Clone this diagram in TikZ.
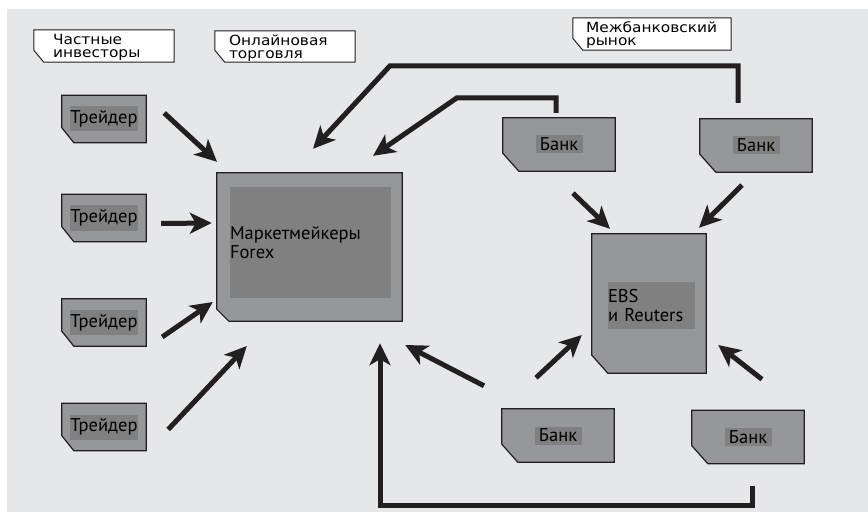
\documentclass[tikz,border=0pt]{standalone}
\usepackage{fontspec}
\setmainfont{PT Sans}
\newfontfamily\labfont[FakeStretch=1.1]{DejaVu Sans}
\usetikzlibrary{arrows.meta}

\definecolor{bgcol}{HTML}{E6E7E8}
\definecolor{cardcol}{HTML}{96979A}
\definecolor{tagcol}{HTML}{808080}
\definecolor{inkcol}{HTML}{231F20}

% outline with the lower left corner cut off
\newcommand{\cutbox}[4]{%
  \filldraw[#1] (#2.north west) -- (#2.north east) -- (#2.south east)
    -- ([xshift=#3]#2.south west) -- ([yshift=#4]#2.south west) -- cycle;}

\tikzset{
  card/.style={inner sep=0pt},
  cardline/.style={draw=inkcol, line width=1.2pt, fill=cardcol},
  labline/.style={draw=inkcol, line width=1pt, fill=white},
  tag/.style={fill=tagcol, inner sep=0pt, font=\fontsize{18.5}{18.5}\selectfont},
  labtext/.style={anchor=west, align=left, inner sep=0pt,
    font=\labfont\fontsize{14}{12.8}\selectfont},
  flow/.style={draw=inkcol, line width=5pt,
    -{Stealth[length=22pt,width=21pt,inset=6pt]}},
}

\begin{document}
\begin{tikzpicture}[x=1pt,y=-1pt]
\useasboundingbox (0,0) rectangle (868,516);

% Background
\fill[bgcol] (7,9) rectangle (868,512);

% Labels
\node[card, minimum width=140, minimum height=32] (lab1) at (104,46) {};
\cutbox{labline}{lab1}{10pt}{12pt}
\node[labtext] (labtxt1) at ([shift={(19,1.5)}]lab1.west) {Частные\\инвесторы};

\node[card, minimum width=140, minimum height=31] (lab2) at (285,46.5) {};
\cutbox{labline}{lab2}{10pt}{12pt}
\node[labtext] (labtxt2) at ([shift={(14,1.5)}]lab2.west) {Онлайновая\\торговля};

\node[card, minimum width=158, minimum height=32] (lab3) at (652,34) {};
\cutbox{labline}{lab3}{10pt}{12pt}
\node[labtext] (labtxt3) at ([shift={(13,1)}]lab3.west) {Межбанковский\\рынок};

% Traders
\foreach \i/\y in {1/119,2/218,3/322.5,4/427} {
  \node[card, minimum width=84, minimum height=47] (t\i) at (104,\y) {};
  \cutbox{cardline}{t\i}{12pt}{15pt}
  \node[tag, minimum width=68, minimum height=25] (tt\i) at (t\i) {Трейдер};
}

% Market makers
\node[card, minimum width=185, minimum height=148] (mm) at (309.5,247) {};
\cutbox{cardline}{mm}{12pt}{12pt}
\node[tag, text width=161, minimum height=111, align=left] (mmtxt) at (310.5,242.5)
  {Маркетмейкеры\\Forex};

% Banks
\foreach \i/\x/\y in {1/559/144.5,2/756/145.5,3/558/435.5,4/748/437} {
  \node[card, minimum width=112, minimum height=53] (b\i) at (\x,\y) {};
  \cutbox{cardline}{b\i}{16pt}{18pt}
  \node[tag, minimum width=47, minimum height=18] (bt\i) at (b\i) {Банк};
}

% EBS
\node[card, minimum width=114, minimum height=139] (ebs) at (649,303.5) {};
\cutbox{cardline}{ebs}{16pt}{18pt}
\node[tag, text width=87, minimum height=47, align=left] (ebstxt) at (651.5,305.5)
  {EBS\\и Reuters};

% Traders to market makers
\draw[flow] ([shift={(18,-6)}]t1.east) -- ([shift={(-92.5,-11)}]mm.north);
\draw[flow] ([shift={(15,5.5)}]t2.east) -- ([shift={(-5,-24)}]mm.west);
\draw[flow] ([shift={(16,14.5)}]t3.east) -- ([shift={(-4,55)}]mm.west);
\draw[flow] ([shift={(22,2.5)}]t4.east) -- ([shift={(30,99)}]mm.west);

% Banks to market makers
\draw[flow] ([shift={(-18,-16)}]b2.north) -- ++(0,-37) -- ++(-348,0)
  -- ([shift={(3.5,-24)}]mm.north);
\draw[flow] ([shift={(-3,-5)}]b1.north) -- ++(0,-15) -- ++(-99,0)
  -- ([shift={(63.5,-17)}]mm.north);
\draw[flow] ([shift={(4,22)}]b4.south) -- ++(0,20) -| ([shift={(70.5,22)}]mm.south);
\draw[flow] ([shift={(-74,-23)}]b3.north) -- ([shift={(3,98)}]mm.east);

% Banks to EBS
\draw[flow] ([shift={(14,22)}]b1.south) -- ([shift={(-39,-5)}]ebs.north);
\draw[flow] ([shift={(-14,13)}]b2.south) -- ([shift={(50,-6)}]ebs.north);
\draw[flow] ([shift={(-22,-31)}]b3.north) -- ([shift={(-10,31.5)}]ebs.west);
\draw[flow] ([shift={(14,-31)}]b4.north) -- ([shift={(12,41.5)}]ebs.east);

\end{tikzpicture}
\end{document}
